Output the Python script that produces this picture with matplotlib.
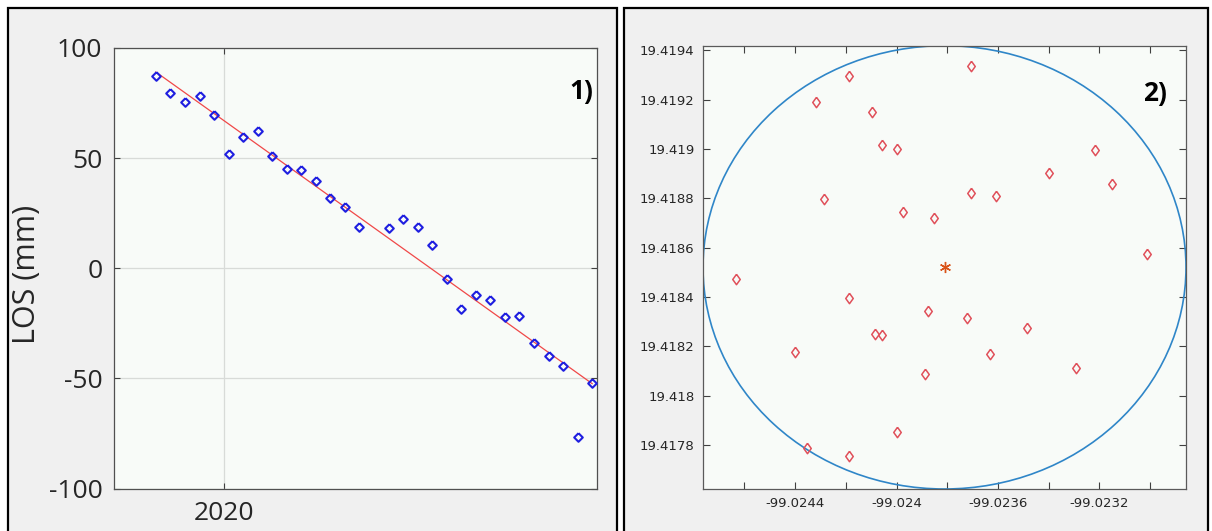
import matplotlib
matplotlib.use("Agg")
import matplotlib.pyplot as plt
import matplotlib.dates as mdates
import matplotlib.patches as mpatches
import numpy as np

plt.rcParams["axes.unicode_minus"] = False

# ---- panel 1: LOS displacement time series ----
los_dates = [
    "2019-11-06", "2019-11-18", "2019-11-30", "2019-12-12", "2019-12-24",
    "2020-01-05", "2020-01-17", "2020-01-29", "2020-02-10", "2020-02-22",
    "2020-03-05", "2020-03-17", "2020-03-29", "2020-04-10", "2020-04-22",
    "2020-05-16", "2020-05-28", "2020-06-09", "2020-06-21", "2020-07-03",
    "2020-07-15", "2020-07-27", "2020-08-08", "2020-08-20", "2020-09-01",
    "2020-09-13", "2020-09-25", "2020-10-07", "2020-10-19", "2020-10-31",
]
los_mm = [
    87.4, 79.4, 75.4, 78.0, 69.4, 51.7, 59.8, 62.2, 50.8, 44.9,
    44.5, 39.5, 31.7, 27.8, 18.6, 18.3, 22.3, 18.6, 10.6, -4.9,
    -18.3, -12.2, -14.3, -22.2, -21.5, -33.8, -39.7, -44.3, -76.5, -52.0,
]
los_yticks = [-100, -50, 0, 50, 100]

# ---- panel 2: points inside the search radius ----
pt_lon = [
    -99.023706, -99.024188, -99.024316, -99.024095, -99.024058, -99.023997,
    -99.023216, -99.023400, -99.023151, -99.023706, -99.023607, -99.024286,
    -99.023973, -99.023852, -99.023013, -99.024635, -99.024188, -99.023875,
    -99.023721, -99.023486, -99.024086, -99.024058, -99.024401, -99.023632,
    -99.023293, -99.023889, -99.023997, -99.024355, -99.024188,
]
pt_lat = [
    19.419335, 19.419294, 19.419191, 19.419148, 19.419015, 19.419001,
    19.418994, 19.418901, 19.418856, 19.418823, 19.418808, 19.418798,
    19.418746, 19.418721, 19.418575, 19.418474, 19.418397, 19.418344,
    19.418315, 19.418276, 19.418249, 19.418247, 19.418177, 19.418170,
    19.418113, 19.418087, 19.417852, 19.417788, 19.417755,
]
center_lon = -99.023811
center_lat = 19.418520
radius_m = 100.0

lat_ticks = [19.4178, 19.4180, 19.4182, 19.4184, 19.4186,
             19.4188, 19.4190, 19.4192, 19.4194]
lon_ticks = [-99.0246, -99.0244, -99.0242, -99.0240, -99.0238,
             -99.0236, -99.0234, -99.0232, -99.0230]
lon_labels = ["", "-99.0244", "", "-99.024", "", "-99.0236", "", "-99.0232", ""]

W, H = 1212, 531
fig = plt.figure(figsize=(W / 100, H / 100), dpi=100)
fig.patch.set_facecolor("white")

# grey panel frames
for x0, x1 in [(8, 617), (624, 1208)]:
    fig.patches.append(mpatches.Rectangle(
        (x0 / W, -0.05), (x1 - x0) / W, 1.05 - 8 / H,
        transform=fig.transFigure, facecolor="#f0f0f0",
        edgecolor="black", linewidth=1.6, zorder=-10))

TXT = "#262626"
FACE = "#f8fbf8"

# ---------------- left axes ----------------
ax1 = fig.add_axes([113.5 / W, 1 - 488.6 / H, 483.5 / W, 440.6 / H])
ax1.set_facecolor(FACE)
dates = np.array(los_dates, dtype="datetime64[D]")
xnum = mdates.date2num(dates)
coef = np.polyfit(xnum, los_mm, 1)
ax1.plot(dates, np.polyval(coef, xnum), color="#f04848", lw=0.9, zorder=2)
diamond = [(0, 1), (1, 0), (0, -1), (-1, 0), (0, 1)]
ax1.plot(dates, los_mm, linestyle="none", marker=diamond, markersize=6.2,
         markerfacecolor="none", markeredgecolor="#1f1fe0",
         markeredgewidth=1.5, zorder=3)
ax1.set_xlim(np.datetime64("2019-10-02"), np.datetime64("2020-11-04"))
ax1.set_ylim(-100, 100)
ax1.set_yticks(los_yticks)
ax1.set_yticklabels([str(v) for v in los_yticks])
ax1.set_xticks([np.datetime64("2020-01-01")])
ax1.set_xticklabels(["2020"])
ax1.grid(True, color="#d8dbd8", linewidth=0.9)
ax1.set_axisbelow(True)
ax1.tick_params(direction="in", length=4, width=0.8, color="#404040",
                top=True, right=True, labelsize=19, labelcolor=TXT)
ax1.tick_params(axis="y", pad=8)
ax1.tick_params(axis="x", pad=9)
for lab in ax1.get_xticklabels() + ax1.get_yticklabels():
    lab.set_fontfamily("Open Sans")
for s in ax1.spines.values():
    s.set_color("#505050")
    s.set_linewidth(0.9)
fig.text(27 / W, 1 - 274 / H, "LOS (mm)", rotation=90, ha="center",
         va="center", fontsize=22, color=TXT, family="Open Sans")
fig.text(593 / W, 1 - 92 / H, "1)", ha="right", va="center", fontsize=19,
         fontweight="bold", color="black", family="Open Sans")

# ---------------- right axes ----------------
ax2 = fig.add_axes([703 / W, 1 - 489 / H, 483 / W, 443.3 / H])
ax2.set_facecolor(FACE)
r_lat = radius_m / 111320.0
r_lon = r_lat / np.cos(np.radians(center_lat))
circle = mpatches.Ellipse((center_lon, center_lat), 2 * r_lon, 2 * r_lat,
                          facecolor="none", edgecolor="#2f86c8",
                          linewidth=1.2, zorder=2)
ax2.add_patch(circle)
red_diamond = [(0, 1), (0.72, 0), (0, -1), (-0.72, 0), (0, 1)]
ax2.plot(pt_lon, pt_lat, linestyle="none", marker=red_diamond,
         markersize=7.5, markerfacecolor="none", markeredgecolor="#e0505a",
         markeredgewidth=1.1, zorder=3)
ax2.plot([center_lon], [center_lat], linestyle="none", marker=(6, 2, 0),
         markersize=8, markeredgecolor="#d95319", markeredgewidth=1.0,
         zorder=4)
ax2.set_xlim(center_lon - r_lon, center_lon + r_lon)
ax2.set_ylim(center_lat - r_lat, center_lat + r_lat)
ax2.set_xticks(lon_ticks)
ax2.set_xticklabels(lon_labels)
ax2.set_yticks(lat_ticks)
ax2.set_yticklabels([f"{v:.4f}".rstrip("0") for v in lat_ticks])
ax2.tick_params(direction="in", length=5, width=0.8, color="#404040",
                top=True, right=True, labelsize=9.5, labelcolor=TXT, pad=6)
for s in ax2.spines.values():
    s.set_color("#5a5a5a")
    s.set_linewidth(0.9)
fig.text(1167 / W, 1 - 94 / H, "2)", ha="right", va="center", fontsize=19,
         fontweight="bold", color="black", family="Open Sans")

fig.savefig("out.png", dpi=100)
